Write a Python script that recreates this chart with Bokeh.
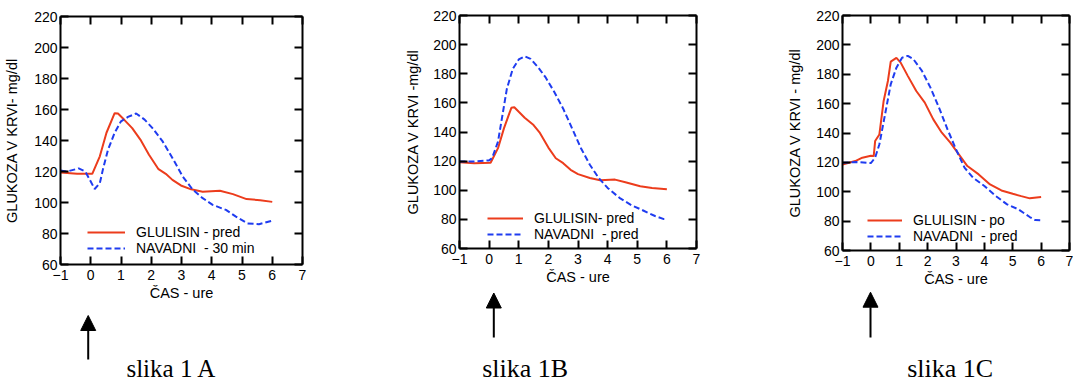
from bokeh.plotting import figure
from bokeh.layouts import row, column
from bokeh.models import (LinearAxis, FixedTicker, Legend, LegendItem, Arrow,
                          NormalHead, Label, Range1d)
from bokeh.embed import file_html
from bokeh.resources import INLINE

# ---------------- data ----------------
x_ticks = [-1, 0, 1, 2, 3, 4, 5, 6, 7]
y_ticks = [60, 80, 100, 120, 140, 160, 180, 200, 220]

# Panel A
a_glu_x = [-1, -0.45, 0.05, 0.3, 0.52, 0.79, 0.9, 1.1, 1.37, 1.64, 1.92, 2.24, 2.48, 2.7, 2.98, 3.32, 3.7, 4.27, 4.7, 5.15, 5.6, 6.0]
a_glu_y = [119.4, 118.5, 118.5, 129.8, 145, 157.6, 157.4, 153.5, 148, 140.6, 131, 121.5, 118.5, 114.6, 111, 108.5, 107, 107.6, 105.4, 102.2, 101.5, 100.4]
a_nav_x = [-1, -0.78, -0.4, -0.18, -0.03, 0.13, 0.3, 0.41, 0.57, 0.79, 1.0, 1.23, 1.5, 1.78, 2.04, 2.37, 2.7, 3.04, 3.37, 3.7, 4.03, 4.47, 4.8, 5.18, 5.56, 6.0]
a_nav_y = [120.6, 120, 122, 120, 114.6, 108.7, 112.5, 122, 134, 145, 152.4, 155.2, 157.4, 153.5, 148, 139.6, 128.7, 116.8, 108.3, 102.8, 98.5, 95.2, 90.9, 86.5, 86, 88.3]

# Panel B
b_glu_x = [-1, -0.5, 0.05, 0.3, 0.5, 0.75, 0.85, 1.0, 1.2, 1.5, 1.7, 2.0, 2.25, 2.5, 2.75, 3.0, 3.4, 3.75, 4.25, 4.6, 5.1, 5.5, 6.0]
b_glu_y = [119.3, 118.6, 118.9, 128.9, 142.5, 156.6, 157, 153.9, 149.8, 144.8, 139.8, 129.3, 122, 118.6, 114, 111.1, 108.4, 106.8, 107.3, 105.5, 102.7, 101.6, 100.7]
b_nav_x = [-1, -0.5, 0, 0.1, 0.3, 0.45, 0.6, 0.8, 1.0, 1.2, 1.4, 1.65, 1.9, 2.2, 2.5, 2.8, 3.1, 3.4, 3.7, 4.0, 4.4, 4.8, 5.2, 5.6, 5.9, 6.0]
b_nav_y = [119.8, 119.8, 120.5, 122, 133.4, 151.6, 169.8, 183.4, 189.8, 192, 190.2, 184.5, 177.7, 167.5, 156, 142.5, 128.9, 117.5, 108.4, 101.6, 94.8, 89.8, 86.1, 82.3, 80.2, 80.2]

# Panel C
c_glu_x = [-1, -0.55, -0.3, 0, 0.1, 0.15, 0.3, 0.45, 0.6, 0.7, 0.9, 1.05, 1.3, 1.6, 1.9, 2.2, 2.5, 2.8, 3.1, 3.4, 3.8, 4.2, 4.6, 5.0, 5.3, 5.6, 6.0]
c_glu_y = [118.6, 120.9, 123.2, 124.5, 124.3, 134.5, 139, 161.8, 175.4, 188.6, 191.1, 187.9, 178.9, 168.6, 160.7, 149.3, 140.2, 133.4, 125.4, 117.5, 111.8, 105, 100.9, 98.6, 97, 95.5, 96.4]
c_nav_x = [-1, -0.5, 0, 0.15, 0.3, 0.5, 0.7, 0.9, 1.1, 1.3, 1.5, 1.8, 2.1, 2.4, 2.7, 3.0, 3.3, 3.6, 4.0, 4.4, 4.8, 5.2, 5.6, 5.8, 6.0]
c_nav_y = [119.8, 120.2, 119.5, 123.2, 132.3, 152.7, 173.2, 184.5, 191.3, 192.5, 190.2, 182.3, 170.9, 157.3, 142.5, 128.9, 116.4, 109.6, 103.9, 97.1, 91.4, 88, 82.8, 80.7, 80.5]

y_labels = ["GLUKOZA V KRVI- mg/dl", "GLUKOZA V KRVI -mg/dl", "GLUKOZA V KRVI - mg/dl"]
x_label = "ČAS - ure"
glu_names = ["GLULISIN - pred", "GLULISIN- pred", "GLULISIN - po"]
nav_names = ["NAVADNI  - 30 min", "NAVADNI  - pred", "NAVADNI  - pred"]
captions = ["slika 1 A", "slika 1B", "slika 1C"]

RED = "#ec3c1c"
BLUE = "#1f3cf0"
FONT = "Liberation Sans"
H = 381

# layout geometry per panel: (fig width, top-fig height, border left, right, top, bottom)
geo = [
    (390, 308, 60, 88, 16, 44),
    (380, 289, 69, 74, 15, 41),
    (303, 289, 72, 4, 15, 39),
]
legend_loc = [(27, 8), (28, 6), (25, 6)]
glyph_w = [38, 36, 35]
ylab_standoff = [11, 9, 10]
# annotation placement (x in hours, y in px above page bottom)
arrow_x = [-0.084, 0.158, -0.013]
arrow_y = [(22, 66), (44, 88.5), (44, 89.3)]
cap_x = [1.18, -0.234, 1.28]
cap_y = [13.5, 13.5, 13.5]
cap_size = ["25px", "26px", "26px"]

series = [
    (a_glu_x, a_glu_y, a_nav_x, a_nav_y),
    (b_glu_x, b_glu_y, b_nav_x, b_nav_y),
    (c_glu_x, c_glu_y, c_nav_x, c_nav_y),
]


def style_axis(ax, ticks, show_labels):
    ax.ticker = FixedTicker(ticks=ticks)
    ax.axis_line_color = "black"
    ax.axis_line_width = 2
    ax.major_tick_line_color = "black"
    ax.major_tick_line_width = 2
    ax.major_tick_in = 8
    ax.major_tick_out = 0
    ax.minor_tick_line_color = None
    ax.major_label_text_font = FONT
    ax.major_label_text_color = "black"
    if show_labels:
        ax.major_label_text_font_size = "14px"
    else:
        # mirrored axis: ticks only
        ax.major_label_overrides = {t: "" for t in ticks}
        ax.major_label_text_font_size = "1px"
        ax.major_label_standoff = 0


cols = []
for i in range(3):
    w, ht, bl, br, bt, bb = geo[i]
    p = figure(width=w, height=ht, output_backend="svg", toolbar_location=None,
               x_range=Range1d(-1, 7), y_range=Range1d(60, 220),
               min_border_left=bl, min_border_right=br, min_border_top=bt,
               min_border_bottom=bb, x_axis_location=None, y_axis_location=None)
    p.frame_align = False
    p.grid.visible = False
    p.outline_line_color = None
    p.background_fill_color = "white"
    p.border_fill_color = "white"

    xb = LinearAxis(axis_label=x_label)
    yl = LinearAxis(axis_label=y_labels[i])
    xt = LinearAxis()
    yr = LinearAxis()
    style_axis(xb, x_ticks, True)
    style_axis(yl, y_ticks, True)
    style_axis(xt, x_ticks, False)
    style_axis(yr, y_ticks, False)
    xb.major_label_standoff = 5
    yl.major_label_standoff = 3
    for ax in (xb, yl):
        ax.axis_label_text_font = FONT
        ax.axis_label_text_font_size = "14.5px"
        ax.axis_label_text_font_style = "normal"
        ax.axis_label_text_color = "black"
    xb.axis_label_standoff = 2
    yl.axis_label_standoff = ylab_standoff[i]
    p.add_layout(xb, "below")
    p.add_layout(yl, "left")
    p.add_layout(xt, "above")
    p.add_layout(yr, "right")

    gx, gy, nx, ny = series[i]
    r1 = p.line(gx, gy, line_color=RED, line_width=2)
    r2 = p.line(nx, ny, line_color=BLUE, line_width=2, line_dash="6 3")

    leg = Legend(items=[LegendItem(label=glu_names[i], renderers=[r1]),
                        LegendItem(label=nav_names[i], renderers=[r2])],
                 location=legend_loc[i], padding=0, margin=0, spacing=0,
                 glyph_width=glyph_w[i], glyph_height=16, label_height=16,
                 label_standoff=11, border_line_color=None,
                 background_fill_alpha=0,
                 label_text_font=FONT, label_text_font_size="14px",
                 label_text_color="black")
    p.add_layout(leg, "center")

    # bottom strip with injection arrow and caption, sharing the time axis
    hb = H - ht
    q = figure(width=w, height=hb, output_backend="svg", toolbar_location=None,
               x_range=p.x_range, y_range=Range1d(0, hb),
               min_border_left=bl, min_border_right=br, min_border_top=0,
               min_border_bottom=0, x_axis_location=None, y_axis_location=None)
    q.frame_align = False
    q.grid.visible = False
    q.outline_line_color = None
    q.background_fill_color = "white"
    q.border_fill_color = "white"
    q.add_layout(Arrow(x_start=arrow_x[i], y_start=arrow_y[i][0],
                       x_end=arrow_x[i], y_end=arrow_y[i][1],
                       line_color="black", line_width=2,
                       end=NormalHead(size=15, fill_color="black",
                                      line_color="black", line_width=1)))
    q.add_layout(Label(x=cap_x[i], y=cap_y[i], text=captions[i],
                       text_font="Liberation Serif", text_font_size=cap_size[i],
                       text_color="black", text_baseline="middle",
                       text_align="left"))
    cols.append(column(p, q, spacing=0))

layout = row(*cols, spacing=0)
open("out.html", "w").write(file_html(layout, INLINE))
